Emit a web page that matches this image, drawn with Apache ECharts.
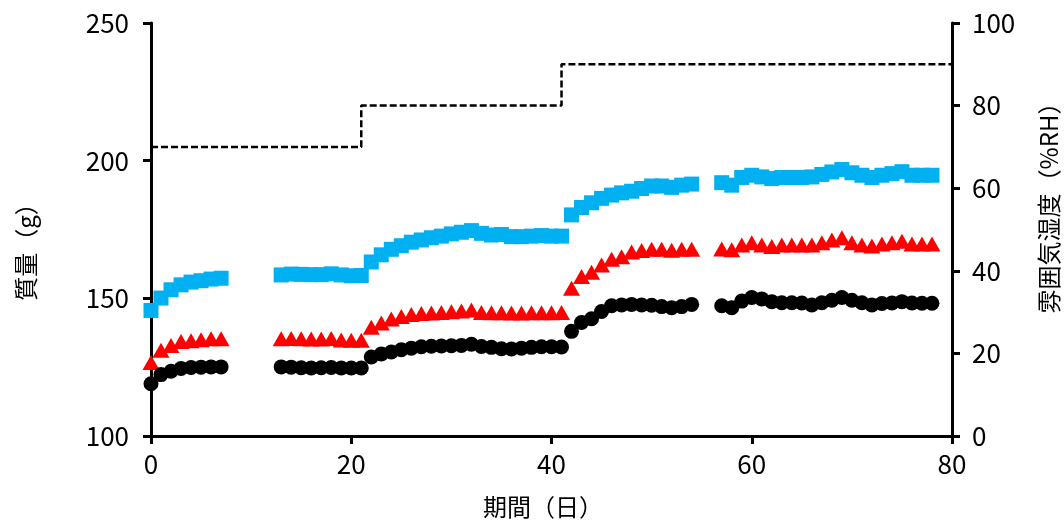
<!DOCTYPE html>
<html>
<head>
<meta charset="utf-8">
<script src="https://cdn.jsdelivr.net/npm/echarts@6/dist/echarts.min.js"></script>
<style>
html,body{margin:0;padding:0;background:#fff;}
#chart{width:1064px;height:524px;}
</style>
</head>
<body>
<div id="chart"></div>
<script>
// Days of measurement
const days = [0,1,2,3,4,5,6,7,
  13,14,15,16,17,18,19,20,21,
  22,23,24,25,26,27,28,29,30,31,32,33,34,35,36,37,38,39,40,41,
  42,43,44,45,46,47,48,49,50,51,52,53,54,
  57,58,59,60,61,62,63,64,65,66,67,68,69,70,71,72,73,74,75,76,77,78];
// Mass (g) – blue squares
const massBlue = [145.6,150.1,153.1,154.9,155.9,156.4,157.0,157.3,
  158.5,158.8,158.7,158.6,158.6,158.9,158.5,158.2,158.3,
  163.2,165.8,167.8,169.1,170.4,171.2,172.0,172.6,173.4,174.0,174.6,173.6,173.0,173.2,172.4,172.4,172.6,172.8,172.6,172.6,
  180.3,183.0,184.7,186.3,187.5,188.3,188.9,189.9,190.8,190.8,190.3,191.1,191.5,
  192.0,191.1,193.9,194.7,194.1,193.5,193.9,193.9,193.9,194.1,195.0,195.9,196.8,195.6,194.7,193.9,194.7,195.3,196.0,194.7,194.7,194.7];
// Mass (g) – red triangles
const massRed = [126.7,131.1,132.9,134.3,134.6,135.0,135.3,135.3,
  135.3,135.4,135.3,135.2,135.2,135.4,134.9,134.8,134.8,
  139.5,141.0,142.5,143.4,144.1,144.5,144.7,144.9,145.1,145.4,145.8,144.9,144.8,144.8,144.7,144.7,144.8,144.8,144.8,144.9,
  153.7,157.9,159.5,162.1,164.2,165.1,166.8,167.4,167.8,167.8,167.5,167.8,167.8,
  167.9,167.6,169.4,170.2,169.4,168.8,169.4,169.4,169.4,169.4,170.2,171.2,172.0,170.2,169.4,169.0,169.7,170.2,170.7,169.7,169.7,169.7];
// Mass (g) – black circles
const massBlack = [119.0,122.3,123.5,124.5,124.9,125.0,125.1,125.1,
  125.1,125.0,124.8,124.7,124.8,124.9,124.7,124.7,124.7,
  128.7,129.8,130.5,131.3,131.9,132.4,132.6,132.7,132.8,132.9,133.3,132.5,132.2,131.7,131.6,131.9,132.2,132.4,132.4,132.3,
  138.0,141.2,142.6,145.2,147.3,147.6,147.8,147.6,147.5,147.0,146.6,147.0,147.8,
  147.3,146.6,149.0,150.3,149.8,148.8,148.4,148.4,148.3,147.6,148.4,149.3,150.3,149.3,148.4,147.6,148.1,148.3,148.8,148.3,148.2,148.2];
// Ambient humidity (%RH) step points
const rhDays = [0,21,41,80];
const rhValues = [70,80,90,90];

const xTitle = '期間（日）';
const yLeftTitle = '質量（g）';
const yRightTitle = '雰囲気湿度（%RH）';

const FONT = '"Noto Sans CJK JP", "Noto Sans", sans-serif';
const pair = (xs, ys) => xs.map((x, i) => [x, ys[i]]);

const axisLine = {show: true, lineStyle: {color: '#000', width: 3}};
const axisTick = {show: true, inside: false, length: 8, lineStyle: {color: '#000', width: 3}};

const chart = echarts.init(document.getElementById('chart'), null, {renderer: 'canvas'});
chart.setOption({
  animation: false,
  backgroundColor: '#fff',
  grid: {left: 151, right: 112, top: 23, bottom: 88, containLabel: false},
  xAxis: {
    type: 'value', min: 0, max: 80, interval: 20,
    axisLine: axisLine, axisTick: axisTick, splitLine: {show: false},
    axisLabel: {color: '#000', fontSize: 26, fontFamily: FONT, margin: 15}
  },
  yAxis: [{
    type: 'value', min: 100, max: 250, interval: 50, position: 'left',
    axisLine: axisLine, axisTick: axisTick, splitLine: {show: false},
    axisLabel: {color: '#000', fontSize: 26, fontFamily: FONT, margin: 22}
  }, {
    type: 'value', min: 0, max: 100, interval: 20, position: 'right',
    axisLine: axisLine, axisTick: axisTick, splitLine: {show: false},
    axisLabel: {color: '#000', fontSize: 26, fontFamily: FONT, margin: 20}
  }],
  series: [{
    type: 'scatter', yAxisIndex: 0, symbol: 'rect', symbolSize: 15,
    itemStyle: {color: '#00B0F0', opacity: 1}, data: pair(days, massBlue)
  }, {
    type: 'scatter', yAxisIndex: 0, symbol: 'triangle', symbolSize: [17, 15],
    itemStyle: {color: '#FF0000', opacity: 1}, data: pair(days, massRed)
  }, {
    type: 'scatter', yAxisIndex: 0, symbol: 'circle', symbolSize: 15,
    itemStyle: {color: '#000000', opacity: 1}, data: pair(days, massBlack)
  }, {
    type: 'line', yAxisIndex: 1, step: 'end', showSymbol: false, symbol: 'none',
    lineStyle: {color: '#000', width: 2.5, type: [7, 3]},
    data: pair(rhDays, rhValues)
  }],
  graphic: [{
    type: 'text', x: 543, y: 507,
    style: {text: xTitle, fill: '#000', font: '24px ' + FONT, textAlign: 'center', textVerticalAlign: 'middle'}
  }, {
    type: 'text', x: 26, y: 246, rotation: Math.PI / 2,
    style: {text: yLeftTitle, fill: '#000', font: '24px ' + FONT, textAlign: 'center', textVerticalAlign: 'middle'}
  }, {
    type: 'text', x: 1049, y: 202, rotation: Math.PI / 2,
    style: {text: yRightTitle, fill: '#000', font: '24px ' + FONT, textAlign: 'center', textVerticalAlign: 'middle'}
  }]
});
</script>
</body>
</html>
